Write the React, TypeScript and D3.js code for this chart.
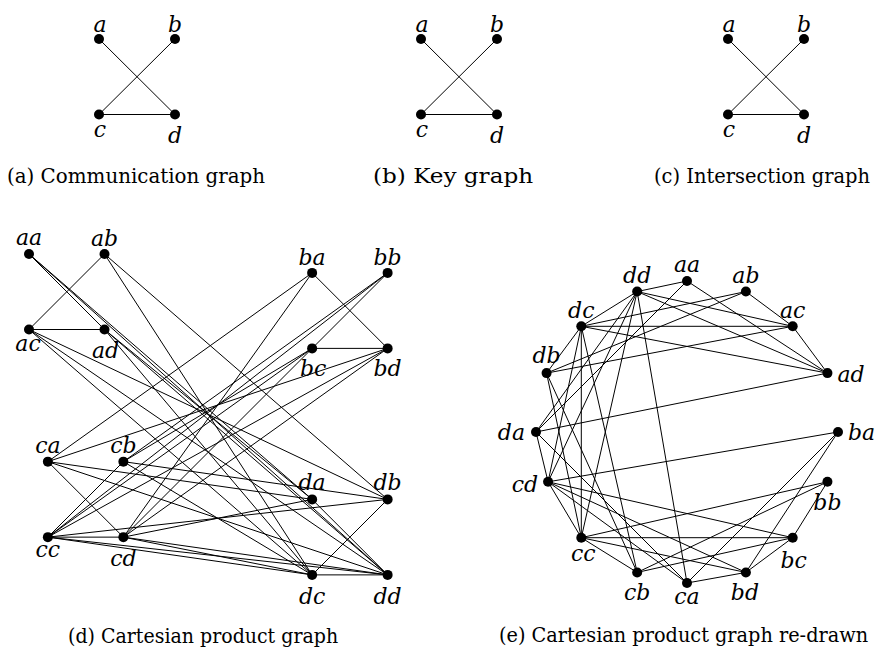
import React, { useLayoutEffect, useRef, useState } from "react";
import * as d3 from "d3";

// Base graph: four parties and the links between them
const BASE_NODES = ["a", "b", "c", "d"];
const BASE_EDGES: [string, string][] = [
  ["a", "d"],
  ["b", "c"],
  ["c", "d"],
];
// Base layout in grid units (column, row)
const BASE_COL = [0, 1, 0, 1];
const BASE_ROW = [0, 0, 1, 1];

// Panel captions for the top row
const TOP_CAPTIONS = [
  "(a) Communication graph",
  "(b) Key graph",
  "(c) Intersection graph",
];

// Product graph vertices
const PRODUCT_NODES = [
  "aa", "ab", "ac", "ad",
  "ba", "bb", "bc", "bd",
  "ca", "cb", "cc", "cd",
  "da", "db", "dc", "dd",
];

// Product graph edges
const PRODUCT_EDGES: [string, string][] = [
  ["aa", "ad"], ["ab", "ac"], ["ac", "ad"],
  ["ba", "bd"], ["bb", "bc"], ["bc", "bd"],
  ["ca", "cd"], ["cb", "cc"], ["cc", "cd"],
  ["da", "dd"], ["db", "dc"], ["dc", "dd"],
  ["aa", "da"], ["ab", "db"], ["ac", "dc"], ["ad", "dd"],
  ["ba", "ca"], ["bb", "cb"], ["bc", "cc"], ["bd", "cd"],
  ["ca", "da"], ["cb", "db"], ["cc", "dc"], ["cd", "dd"],
  ["aa", "dd"], ["ad", "da"], ["ab", "dc"], ["ac", "db"],
  ["ac", "dd"], ["ad", "dc"], ["ba", "cd"], ["bd", "ca"],
  ["bb", "cc"], ["bc", "cb"], ["bc", "cd"], ["bd", "cc"],
  ["ca", "dd"], ["cd", "da"], ["cb", "dc"], ["cc", "db"],
  ["cc", "dd"], ["cd", "dc"],
];

// Grid layout of the product graph (block layout), in grid units
const GRID_COL = [
  0, 1, 0, 1,
  3.75, 4.75, 3.75, 4.75,
  0.25, 1.25, 0.25, 1.25,
  3.75, 4.75, 3.75, 4.75,
];
const GRID_ROW = [
  0, 0, 1, 1,
  0.25, 0.25, 1.25, 1.25,
  2.75, 2.75, 3.75, 3.75,
  3.25, 3.25, 4.25, 4.25,
];

// Circular layout of the product graph, on a unit circle
const RING_X = [
  0, 0.39, 0.7, 0.93,
  1, 0.93, 0.7, 0.39,
  0, -0.33, -0.7, -0.92,
  -1, -0.93, -0.7, -0.33,
];
const RING_Y = [
  -1, -0.93, -0.7, -0.39,
  0, 0.33, 0.7, 0.93,
  1, 0.93, 0.7, 0.33,
  0, -0.39, -0.7, -0.93,
];

const GRID_CAPTION = "(d) Cartesian product graph";
const RING_CAPTION = "(e) Cartesian product graph re-drawn";

// ---- presentation ----
type Place = [number, number, "start" | "middle" | "end"];

const BASE_LABEL: Record<string, Place> = {
  a: [1, -7, "middle"],
  b: [0, -7, "middle"],
  c: [1, 22, "middle"],
  d: [0, 28, "middle"],
};

const GRID_LABEL: Record<string, Place> = {
  aa: [0, -9, "middle"], ab: [0, -8, "middle"],
  ac: [-1, 21, "middle"], ad: [1, 28, "middle"],
  ba: [0, -8, "middle"], bb: [0, -8, "middle"],
  bc: [1, 28, "middle"], bd: [0, 28, "middle"],
  ca: [0, -9, "middle"], cb: [0, -9, "middle"],
  cc: [0, 20, "middle"], cd: [0, 29, "middle"],
  da: [0, -9, "middle"], db: [0, -9, "middle"],
  dc: [0, 29, "middle"], dd: [0, 29, "middle"],
};

const RING_LABEL: Record<string, Place> = {
  aa: [0, -9, "middle"], ab: [0, -9, "middle"],
  ac: [0, -8, "middle"], ad: [10, 9, "start"],
  ba: [10, 8, "start"], bb: [0, 28, "middle"],
  bc: [1, 30, "middle"], bd: [-1, 28, "middle"],
  ca: [0, 21, "middle"], cb: [0, 28, "middle"],
  cc: [2, 23, "middle"], cd: [-10, 10, "end"],
  da: [-11, 8, "end"], db: [0, -10, "middle"],
  dc: [0, -8, "middle"], dd: [0, -9, "middle"],
};

const TOP_CAPTION_SPAN: [number, number][] = [
  [7, 265],
  [373, 533],
  [654, 870],
];

const W = 875;
const H = 650;
const R = 5;
const LABEL_FONT = "DejaVu Serif, serif";
const CAPTION_FONT = "DejaVu Serif, serif";
const LABEL_SIZE = 22;
const CAPTION_SIZE = 21;

type Pt = { id: string; x: number; y: number };

function Graph({
  nodes,
  edges,
  labels,
}: {
  nodes: Pt[];
  edges: [string, string][];
  labels: Record<string, Place>;
}) {
  const byId = new Map(nodes.map((n) => [n.id, n]));
  return (
    <g>
      <g stroke="#000" strokeWidth={1} fill="none">
        {edges.map(([s, t], i) => {
          const p = byId.get(s)!;
          const q = byId.get(t)!;
          return <line key={i} x1={p.x} y1={p.y} x2={q.x} y2={q.y} />;
        })}
      </g>
      <g fill="#000">
        {nodes.map((n) => (
          <circle key={n.id} cx={n.x} cy={n.y} r={R} />
        ))}
      </g>
      <g
        fontFamily={LABEL_FONT}
        fontStyle="italic"
        fontSize={LABEL_SIZE}
        fill="#000"
      >
        {nodes.map((n) => {
          const [dx, dy, anchor] = labels[n.id];
          return (
            <text key={n.id} x={n.x + dx} y={n.y + dy} textAnchor={anchor}>
              {n.id}
            </text>
          );
        })}
      </g>
    </g>
  );
}

// Caption squeezed horizontally to fit the span [x0, x1]
function Caption({
  text,
  x0,
  x1,
  y,
}: {
  text: string;
  x0: number;
  x1: number;
  y: number;
}) {
  const ref = useRef<SVGTextElement>(null);
  const [k, setK] = useState(0.85);
  useLayoutEffect(() => {
    if (ref.current) {
      const w = ref.current.getComputedTextLength();
      if (w > 0) setK((x1 - x0) / w);
    }
  }, [text, x0, x1]);
  return (
    <text
      ref={ref}
      transform={`translate(${x0},${y}) scale(${k},1)`}
      fontFamily={CAPTION_FONT}
      fontSize={CAPTION_SIZE}
      fill="#000"
    >
      {text}
    </text>
  );
}

export default function App() {
  // top row: three copies of the base graph
  const topOrigins = [99, 421, 728];
  const rowY = d3.scaleLinear().domain([0, 1]).range([39, 114.5]);

  const topPanels = topOrigins.map((ox, k) => {
    const colX = d3.scaleLinear().domain([0, 1]).range([ox, ox + 76]);
    const nodes: Pt[] = BASE_NODES.map((id, i) => ({
      id,
      x: colX(BASE_COL[i]),
      y: rowY(BASE_ROW[i]),
    }));
    return { nodes, caption: TOP_CAPTIONS[k], span: TOP_CAPTION_SPAN[k] };
  });

  // grid drawing of the product
  const gx = d3.scaleLinear().domain([0, 1]).range([29, 104.5]);
  const gy = d3.scaleLinear().domain([0, 1]).range([254, 329.5]);
  const gridNodes: Pt[] = PRODUCT_NODES.map((id, i) => ({
    id,
    x: gx(GRID_COL[i]),
    y: gy(GRID_ROW[i]),
  }));

  // circular drawing of the product
  const rx = d3.scaleLinear().domain([-1, 1]).range([536, 838]);
  const ry = d3.scaleLinear().domain([-1, 1]).range([281, 583]);
  const ringNodes: Pt[] = PRODUCT_NODES.map((id, i) => ({
    id,
    x: rx(RING_X[i]),
    y: ry(RING_Y[i]),
  }));

  return (
    <svg
      width={W}
      height={H}
      viewBox={`0 0 ${W} ${H}`}
      style={{ position: "absolute", left: 0, top: 0, background: "#fff" }}
    >
      <rect width={W} height={H} fill="#fff" />
      {topPanels.map((p, k) => (
        <g key={k}>
          <Graph nodes={p.nodes} edges={BASE_EDGES} labels={BASE_LABEL} />
          <Caption text={p.caption} x0={p.span[0]} x1={p.span[1]} y={183} />
        </g>
      ))}
      <Graph nodes={gridNodes} edges={PRODUCT_EDGES} labels={GRID_LABEL} />
      <Caption text={GRID_CAPTION} x0={68} x1={338} y={643} />
      <Graph nodes={ringNodes} edges={PRODUCT_EDGES} labels={RING_LABEL} />
      <Caption text={RING_CAPTION} x0={499} x1={868} y={642} />
    </svg>
  );
}
